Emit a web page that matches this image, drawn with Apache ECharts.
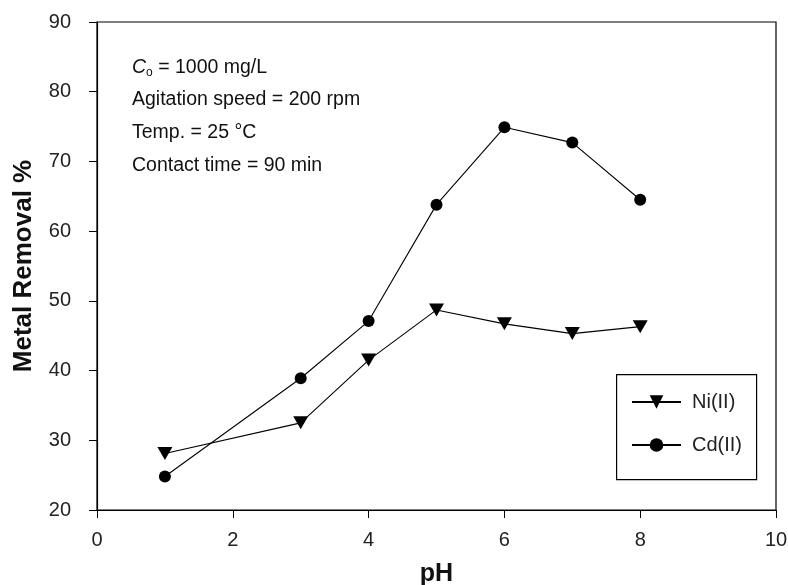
<!DOCTYPE html>
<html><head><meta charset="utf-8">
<script src="https://cdn.jsdelivr.net/npm/echarts@6/dist/echarts.min.js"></script>
<style>html,body{margin:0;padding:0;background:#fff}#c{width:788px;height:585px}</style>
</head><body><div id="c"></div>
<script>
var phValues = [1, 3, 4, 5, 6, 7, 8];
var niRemoval = [28.1, 32.5, 41.5, 48.7, 46.7, 45.3, 46.3];
var cdRemoval = [24.8, 38.9, 47.1, 63.8, 74.9, 72.7, 64.5];
var seriesNames = ['Ni(II)', 'Cd(II)'];
var xTicks = {min: 0, max: 10, interval: 2};
var yTicks = {min: 20, max: 90, interval: 10};

function pairs(xs, ys){ return xs.map(function(x,i){ return [x, ys[i]]; }); }

var FONT = '"Liberation Sans", Arial, sans-serif';
var chart = echarts.init(document.getElementById('c'));
chart.setOption({
  animation: false,
  backgroundColor: '#fff',
  grid: {left: 97, right: 12, top: 22, bottom: 75, show: true, borderColor: '#000', borderWidth: 1.2,
         outerBoundsMode: 'none', containLabel: false},
  xAxis: {
    type: 'value', min: xTicks.min, max: xTicks.max, interval: xTicks.interval,
    name: 'pH', nameLocation: 'middle', nameGap: 52,
    nameTextStyle: {fontFamily: FONT, fontWeight: 'bold', fontSize: 25, color: '#111'},
    axisLine: {lineStyle: {color: '#000', width: 1.2}},
    axisTick: {length: 8, lineStyle: {color: '#000'}},
    axisLabel: {fontFamily: FONT, fontSize: 20, color: '#222', margin: 20},
    splitLine: {show: false}
  },
  yAxis: {
    type: 'value', min: yTicks.min, max: yTicks.max, interval: yTicks.interval,
    name: 'Metal Removal %', nameLocation: 'middle', nameGap: 60, nameRotate: 90,
    nameTextStyle: {fontFamily: FONT, fontWeight: 'bold', fontSize: 26, color: '#111'},
    axisLine: {lineStyle: {color: '#000', width: 1.2}},
    axisTick: {length: 8, lineStyle: {color: '#000'}},
    axisLabel: {fontFamily: FONT, fontSize: 20, color: '#222', margin: 26},
    splitLine: {show: false}
  },
  legend: {
    left: 631, top: 392, padding: 0, orient: 'vertical', itemWidth: 49, itemHeight: 17, itemGap: 23,
    textStyle: {fontFamily: FONT, fontSize: 20, color: '#222', padding: [0,0,0,6]},
    data: seriesNames
  },
  graphic: [
    {type: 'rect', left: 616, top: 374, shape: {width: 140, height: 105},
     style: {fill: 'rgba(0,0,0,0)', stroke: '#000', lineWidth: 1.2}, z: 10},
    {type: 'text', left: 132, top: 58, style: {
      text: '{c|C}{s|o}{t| = 1000 mg/L}',
      rich: {c: {fontFamily: FONT, fontSize: 19.5, fontStyle: 'italic', fill: '#111'},
             s: {fontFamily: FONT, fontSize: 12, fill: '#111', padding: [10,0,0,0]},
             t: {fontFamily: FONT, fontSize: 19.5, fill: '#111'}}}},
    {type: 'text', left: 132, top: 90, style: {text: 'Agitation speed = 200 rpm', fontFamily: FONT, fontSize: 19.5, fill: '#111'}},
    {type: 'text', left: 132, top: 123, style: {text: 'Temp. = 25 \u00B0C', fontFamily: FONT, fontSize: 19.5, fill: '#111'}},
    {type: 'text', left: 132, top: 156, style: {text: 'Contact time = 90 min', fontFamily: FONT, fontSize: 19.5, fill: '#111'}}
  ],
  series: [
    {name: seriesNames[0], type: 'line', data: pairs(phValues, niRemoval),
     symbol: 'triangle', symbolRotate: 180, symbolSize: [15, 13],
     lineStyle: {color: '#000', width: 1.1}, itemStyle: {color: '#000'}},
    {name: seriesNames[1], type: 'line', data: pairs(phValues, cdRemoval),
     symbol: 'circle', symbolSize: 12,
     lineStyle: {color: '#000', width: 1.1}, itemStyle: {color: '#000'}}
  ]
});
</script></body></html>
